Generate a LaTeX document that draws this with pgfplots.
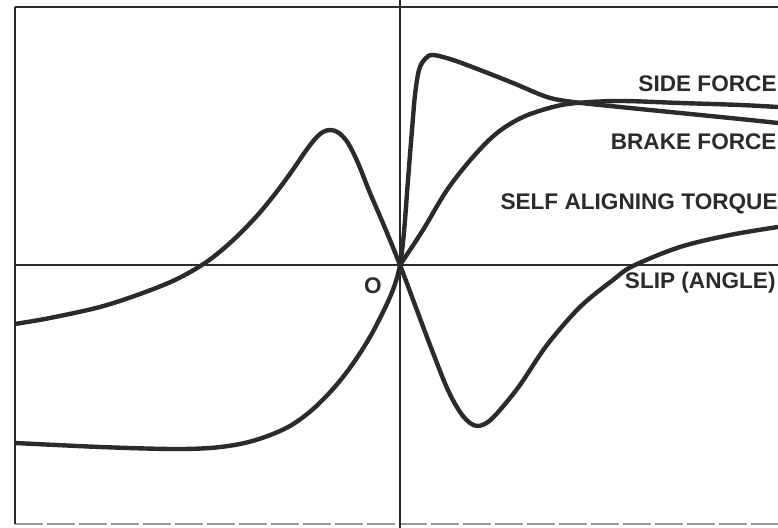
\documentclass[border=0pt]{standalone}
\usepackage{fontspec}
\setmainfont{Liberation Sans}
\usepackage{pgfplots}
\pgfplotsset{compat=1.18}

\definecolor{ink}{HTML}{2B2B2B}

\begin{document}
\begin{tikzpicture}
\begin{axis}[
  scale only axis,
  width=389pt, height=264pt,
  xmin=-400, xmax=378,
  ymin=-263, ymax=265,
  hide axis,
  clip=true,
]
% frame and axes
\addplot[ink, line width=1.1pt] coordinates {(-385,258) (378,258)};
\addplot[black!40, line width=0.9pt, dash pattern=on 14pt off 2pt] coordinates {(-385,-259) (378,-259)};
\addplot[ink, line width=1.1pt] coordinates {(-385,258) (-385,-259)};
\addplot[ink, line width=1.1pt] coordinates {(0,265) (0,-263)};
\addplot[ink, line width=1.1pt] coordinates {(-385,0) (378,0)};

% self aligning torque
\addplot[ink, line width=2.2pt, smooth, tension=0.55] coordinates {
  (-385,-59) (-350,-53) (-300,-42) (-260,-29) (-225,-15) (-195,2)
  (-170,22) (-145,47) (-125,71) (-108,94) (-95,113) (-85,126)
  (-77,133) (-69,135) (-61,132) (-52,122) (-42,102) (-30,72)
  (-15,37) (0,0)
  (15,-40) (30,-80) (47,-123) (60,-147) (70,-158) (78,-161)
  (88,-157) (100,-145) (120,-120) (147,-80) (180,-42) (213,-15)
  (233,-1) (280,18) (330,30) (378,38)
};

% side force
\addplot[ink, line width=2.2pt, smooth, tension=0.55] coordinates {
  (-385,-178) (-300,-182) (-230,-184) (-190,-183) (-160,-179)
  (-135,-172) (-110,-161) (-88,-145) (-67,-124) (-48,-100)
  (-30,-72) (-15,-43) (-6,-22) (0,0)
  (4,33) (8,85) (12,135) (15,170) (19,195) (25,206) (33,210)
  (53,205) (80,195) (113,182) (147,168) (173,163) (220,158)
  (280,152) (340,146) (378,142)
};

% brake force
\addplot[ink, line width=2.2pt, smooth, tension=0.55] coordinates {
  (0,0) (23,35) (47,75) (73,108) (97,132) (123,148) (153,158)
  (177,162) (220,164) (280,162) (340,160) (378,158)
};

\begin{scope}[font=\fontsize{11.3}{13}\selectfont\bfseries, text=ink]
\node[anchor=east, inner sep=0pt] at (axis cs:377,181) {SIDE FORCE};
\node[anchor=east, inner sep=0pt] at (axis cs:377,123) {BRAKE FORCE};
\node[anchor=east, inner sep=0pt] at (axis cs:378,61) {SELF ALIGNING TORQUE};
\node[anchor=east, inner sep=0pt] at (axis cs:376,-18) {SLIP (ANGLE)};
\node[inner sep=0pt] at (axis cs:-27,-21) {O};
\end{scope}
\end{axis}
\pgfresetboundingbox
\useasboundingbox (current axis.south west) rectangle (current axis.north east);
\end{tikzpicture}
\end{document}
